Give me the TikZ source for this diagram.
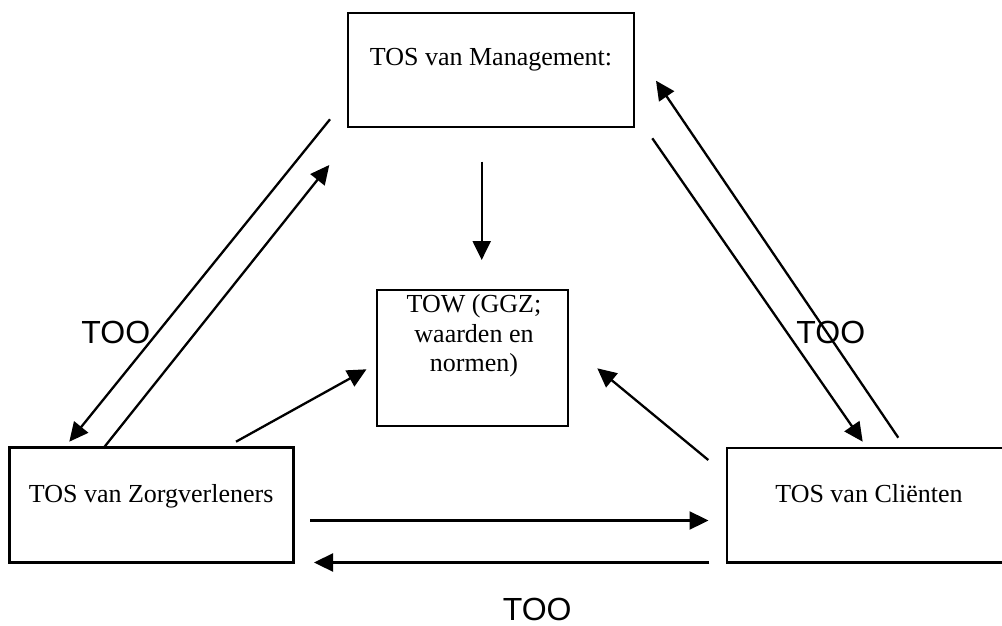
\documentclass[tikz,border=0pt]{standalone}
\usepackage{fontspec}
\setmainfont{Liberation Serif}
\newfontfamily\toofont{Liberation Sans}
\usetikzlibrary{arrows.meta}
\begin{document}
\begin{tikzpicture}[x=1pt,y=-1pt,
  boxnode/.style={draw, line width=2.7pt, inner sep=0pt, font=\fontsize{26}{29.5}\selectfont},
  conn/.style={line width=2.3pt, -{Triangle[length=19pt,width=18pt]}},
  toolabel/.style={anchor=base, inner sep=0pt, font=\toofont\fontsize{32}{36}\selectfont},
  towtext/.style={anchor=base, inner sep=0pt, align=center, font=\fontsize{26}{29.5}\selectfont}]
\useasboundingbox (0,0) rectangle (1002,626);
\fill[white] (0,0) rectangle (1002,626);

% labels
\node[toolabel] (tooL) at (115.8,343.3) {TOO};
\node[toolabel] (tooR) at (830.8,343.3) {TOO};
\node[toolabel] (tooB) at (537.2,620.5) {TOO};

\begin{scope}
\clip (0,0) rectangle (1002,626);
% boxes
\node[boxnode, minimum width=286pt, text height=53pt, text depth=61pt] (mgmt) at (491,70) {TOS van Management:};
\node[boxnode, minimum width=191pt, minimum height=136pt] (tow) at (472.5,358) {};
\node[towtext] (towt) at (474,371.7) {TOW (GGZ;\\waarden en\\normen)};
\node[boxnode, minimum width=284pt, text height=55pt, text depth=59.6pt] (zorg) at (151.2,505) {TOS van Zorgverleners};
\node[boxnode, minimum width=284pt, text height=54.3pt, text depth=60.2pt] (client) at (869,505.2) {TOS van Cliënten};
\end{scope}

% connector end points
\coordinate (l1s) at (330,119.3);
\coordinate (l1e) at (69.3,441.7);
\coordinate (l2s) at (103.3,448.3);
\coordinate (l2e) at (329.3,165);
\coordinate (vs) at (481.7,161.7);
\coordinate (ve) at (481.7,260);
\coordinate (zts) at (236,441.7);
\coordinate (zte) at (366.5,369.3);
\coordinate (rts) at (708.3,460);
\coordinate (rte) at (597.3,368.3);
\coordinate (r1s) at (898.3,437.7);
\coordinate (r1e) at (656,80.7);
\coordinate (r2s) at (652.3,138.3);
\coordinate (r2e) at (862.7,441.7);
\coordinate (b1s) at (310,520.5);
\coordinate (b1e) at (708.5,520.5);
\coordinate (b2s) at (709.3,562.5);
\coordinate (b2e) at (314,562.5);

% connectors
\draw[conn] (l1s) -- (l1e);
\draw[conn] (l2s) -- (l2e);
\draw[conn] (vs) -- (ve);
\draw[conn] (zts) -- (zte);
\draw[conn] (rts) -- (rte);
\draw[conn] (r1s) -- (r1e);
\draw[conn] (r2s) -- (r2e);
\draw[conn] (b1s) -- (b1e);
\draw[conn] (b2s) -- (b2e);
\end{tikzpicture}
\end{document}
